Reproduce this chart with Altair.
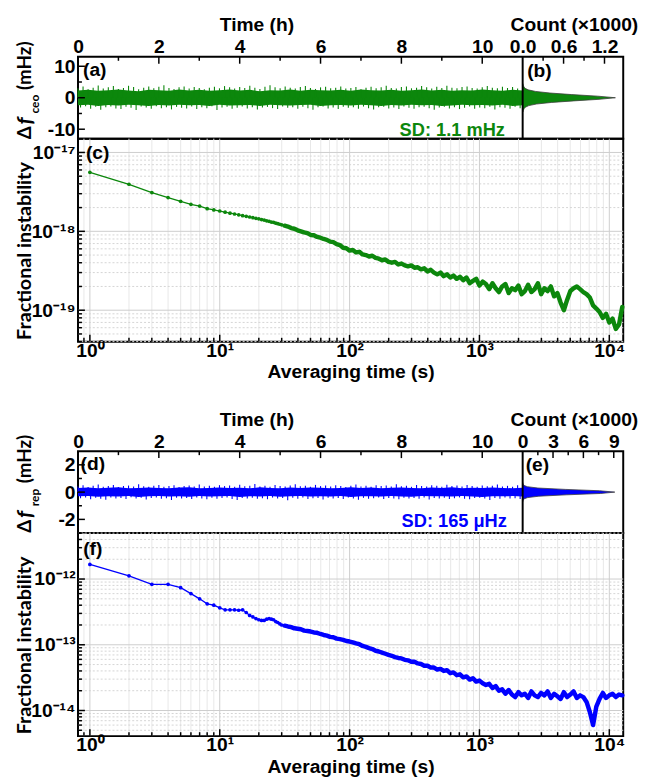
import altair as alt
import pandas as pd

FONT = "Liberation Sans"
SIDE_FONT = "Lato"
FS = 19.5
GREEN = "#0c870c"
BLUE = "#0000ff"

# ---------------- data ----------------
# (a) Delta f_ceo trace, 0..11 h: spike tips above / below zero (mHz)
ceo_upper = [3.0, 3.6, 2.7, 3.2, 3.9, 2.9, 3.3, 3.7, 2.8, 3.1,
             3.8, 3.4, 2.7, 3.2, 3.6, 3.0, 3.5, 4.0, 3.1, 2.8,
             3.3, 3.6, 2.9, 3.4, 3.1, 2.7, 3.2, 3.5, 3.0, 3.7,
             3.3, 2.9, 3.4, 3.1, 3.8, 3.2, 2.8, 3.5, 4.0, 3.3,
             3.0, 3.6, 3.2, 2.9, 3.4, 3.7, 3.1, 2.8, 3.3, 3.5,
             3.0, 3.2, 3.6, 2.9, 3.1, 3.4, 2.7, 3.2, 3.5, 3.0,
             3.3, 3.8, 3.1, 2.9, 3.4, 3.6, 3.0, 3.2, 3.7, 3.3,
             2.9, 3.5, 3.1, 3.8, 3.2, 3.0, 3.4, 3.6, 3.1, 2.9,
             3.3, 3.7, 3.2, 3.0, 3.5, 3.1, 3.4, 2.9, 3.2]
ceo_lower = [-3.1, -2.7, -3.5, -2.9, -3.8, -3.0, -2.8, -3.4, -3.6, -2.9,
             -3.2, -3.9, -2.8, -3.1, -3.5, -2.7, -3.3, -3.0, -3.7, -2.9,
             -3.2, -3.4, -2.8, -3.6, -3.0, -3.3, -2.7, -3.9, -3.1, -2.9,
             -3.5, -3.2, -2.8, -3.4, -3.0, -3.7, -3.1, -2.9, -3.3, -3.6,
             -2.8, -3.2, -3.0, -3.5, -2.9, -3.3, -3.8, -3.0, -2.8, -3.4,
             -3.1, -3.6, -2.9, -3.2, -3.0, -3.5, -2.8, -3.3, -3.7, -3.0,
             -2.9, -3.4, -3.1, -3.6, -2.8, -3.2, -3.5, -3.0, -2.9, -3.3,
             -3.8, -3.1, -2.9, -3.4, -3.0, -3.6, -3.2, -2.8, -3.5, -3.1,
             -3.3, -2.9, -3.7, -3.0, -3.2, -3.5, -2.9, -3.3, -3.1]
# dense core of the band (mHz)
ceo_core_upper = [2.3, 2.5, 2.2, 2.4, 2.6, 2.3, 2.1, 2.5, 2.4, 2.2,
                  2.6, 2.3, 2.5, 2.2, 2.4, 2.6, 2.3, 2.5, 2.1, 2.4,
                  2.3, 2.6, 2.2, 2.5, 2.4, 2.3, 2.5, 2.2, 2.6, 2.4,
                  2.3, 2.5, 2.2, 2.4, 2.6, 2.3, 2.5, 2.2, 2.4, 2.3,
                  2.6, 2.4, 2.2, 2.5, 2.3]
ceo_core_lower = [-2.4, -2.2, -2.6, -2.3, -2.5, -2.2, -2.4, -2.6, -2.3, -2.5,
                  -2.2, -2.4, -2.3, -2.6, -2.2, -2.5, -2.4, -2.3, -2.6, -2.2,
                  -2.4, -2.5, -2.3, -2.2, -2.6, -2.4, -2.3, -2.5, -2.2, -2.4,
                  -2.6, -2.3, -2.5, -2.2, -2.4, -2.3, -2.6, -2.5, -2.2, -2.4,
                  -2.3, -2.5, -2.2, -2.6, -2.4]
# (d) Delta f_rep trace (mHz)
rep_upper = [0.42, 0.50, 0.38, 0.46, 0.55, 0.40, 0.44, 0.52, 0.37, 0.45,
             0.48, 0.41, 0.57, 0.43, 0.39, 0.47, 0.53, 0.40, 0.45, 0.50,
             0.38, 0.44, 0.49, 0.42, 0.56, 0.41, 0.46, 0.39, 0.51, 0.44,
             0.48, 0.40, 0.54, 0.43, 0.47, 0.60, 0.42, 0.46, 0.39, 0.52,
             0.45, 0.41, 0.49, 0.58, 0.43, 0.47, 0.40, 0.53, 0.44, 0.48,
             0.41, 0.50, 0.45, 0.38, 0.47, 0.55, 0.42, 0.46, 0.40, 0.51,
             0.44, 0.49, 0.41, 0.57, 0.43, 0.47, 0.39, 0.52, 0.45, 0.42,
             0.50, 0.46, 0.40, 0.54, 0.44, 0.48, 0.41, 0.53, 0.45, 0.39,
             0.49, 0.43, 0.47, 0.56, 0.42, 0.46, 0.40, 0.50, 0.44]
rep_lower = [-0.45, -0.39, -0.52, -0.41, -0.48, -0.56, -0.40, -0.46, -0.43, -0.50,
             -0.38, -0.47, -0.42, -0.55, -0.44, -0.40, -0.49, -0.45, -0.58, -0.41,
             -0.47, -0.43, -0.51, -0.39, -0.46, -0.53, -0.42, -0.48, -0.44, -0.40,
             -0.50, -0.57, -0.43, -0.47, -0.41, -0.49, -0.45, -0.52, -0.40, -0.46,
             -0.44, -0.60, -0.42, -0.48, -0.39, -0.51, -0.45, -0.43, -0.54, -0.41,
             -0.47, -0.44, -0.50, -0.40, -0.46, -0.56, -0.42, -0.48, -0.45, -0.39,
             -0.51, -0.43, -0.47, -0.53, -0.41, -0.46, -0.44, -0.49, -0.40, -0.55,
             -0.43, -0.47, -0.42, -0.50, -0.45, -0.39, -0.48, -0.52, -0.44, -0.41,
             -0.46, -0.57, -0.43, -0.49, -0.40, -0.47, -0.45, -0.51, -0.42]
rep_core_upper = [0.30, 0.33, 0.28, 0.32, 0.35, 0.29, 0.31, 0.34, 0.30, 0.28,
                  0.33, 0.36, 0.29, 0.31, 0.34, 0.30, 0.32, 0.28, 0.35, 0.31,
                  0.29, 0.33, 0.30, 0.34, 0.32, 0.28, 0.31, 0.35, 0.30, 0.33,
                  0.29, 0.32, 0.34, 0.30, 0.28, 0.33, 0.31, 0.35, 0.29, 0.32,
                  0.30, 0.34, 0.31, 0.28, 0.32]
rep_core_lower = [-0.31, -0.28, -0.34, -0.30, -0.33, -0.29, -0.35, -0.31, -0.28, -0.32,
                  -0.30, -0.34, -0.29, -0.33, -0.31, -0.28, -0.35, -0.30, -0.32, -0.29,
                  -0.34, -0.31, -0.28, -0.33, -0.30, -0.32, -0.29, -0.35, -0.31, -0.30,
                  -0.33, -0.28, -0.32, -0.34, -0.29, -0.31, -0.30, -0.33, -0.28, -0.32,
                  -0.35, -0.30, -0.31, -0.29, -0.33]

# (b) histogram of Delta f_ceo: bin centre (mHz) and count (x1000)
ceo_hist_mhz = [-4.5, -4.0, -3.5, -3.0, -2.5, -2.0, -1.5, -1.0, -0.5, 0.0,
                0.5, 1.0, 1.5, 2.0, 2.5, 3.0, 3.5, 4.0, 4.5]
ceo_hist_count = [0.005, 0.01, 0.02, 0.04, 0.09, 0.2, 0.42, 0.75, 1.12, 1.36,
                  1.1, 0.72, 0.4, 0.19, 0.08, 0.035, 0.018, 0.008, 0.004]
# (e) histogram of Delta f_rep
rep_hist_mhz = [-0.7, -0.6, -0.5, -0.4, -0.3, -0.2, -0.1, 0.0, 0.1, 0.2,
                0.3, 0.4, 0.5, 0.6, 0.7]
rep_hist_count = [0.02, 0.05, 0.12, 0.5, 1.6, 4.3, 7.7, 9.1, 7.6, 4.2,
                  1.5, 0.45, 0.11, 0.04, 0.02]

# (c) fractional instability of f_ceo, units of 1e-18
sparse_tau = list(range(1, 31))
ceo_adev_sparse = [5.6, 3.95, 3.1, 2.68, 2.4, 2.2, 2.09, 1.94, 1.87, 1.81,
                   1.75, 1.70, 1.66, 1.62, 1.58, 1.55, 1.52, 1.49, 1.46, 1.44,
                   1.41, 1.39, 1.36, 1.34, 1.31, 1.30, 1.27, 1.25, 1.23, 1.21]
# dense part: averaging times 10^1.5 ... 10^4.1 in steps of 0.025 decade
ceo_adev_dense = [1.18, 1.15, 1.10, 1.08, 1.03, 1.00, 0.97, 0.95, 0.90, 0.89,
                  0.85, 0.83, 0.80, 0.78, 0.74, 0.73, 0.69, 0.67, 0.62, 0.61,
                  0.57, 0.58, 0.54, 0.55, 0.51, 0.50, 0.48, 0.49, 0.46, 0.45,
                  0.43, 0.44, 0.41, 0.40, 0.41, 0.38, 0.39, 0.37, 0.36, 0.37,
                  0.345, 0.35, 0.33, 0.34, 0.31, 0.325, 0.30, 0.285, 0.30, 0.27,
                  0.285, 0.26, 0.275, 0.25, 0.265, 0.24, 0.26, 0.22, 0.235, 0.25,
                  0.205, 0.23, 0.215, 0.185, 0.22, 0.19, 0.17, 0.20, 0.215, 0.165,
                  0.19, 0.18, 0.205, 0.16, 0.175, 0.21, 0.17, 0.185, 0.22, 0.16,
                  0.19, 0.175, 0.20, 0.15, 0.165, 0.125, 0.10, 0.135, 0.175, 0.19,
                  0.20, 0.185, 0.17, 0.16, 0.145, 0.115, 0.105, 0.095, 0.08, 0.09,
                  0.07, 0.078, 0.058, 0.066, 0.11]
# (f) fractional instability of f_rep, units of 1e-14
rep_adev_sparse = [167, 112, 83, 83, 74, 60, 50, 42, 40, 36.5,
                   34, 34, 34, 33.5, 34, 31, 28, 26.5, 25, 24,
                   23.5, 23.5, 24.5, 25, 24.5, 24, 22.5, 21.8, 20.8, 20]
rep_adev_dense = [19.5, 19.0, 18.6, 17.8, 17.5, 17.2, 16.4, 16.2, 15.9, 15.4,
                  15.2, 14.6, 14.1, 13.8, 13.2, 13.0, 12.4, 12.2, 11.9, 11.4,
                  11.2, 10.9, 10.5, 10.2, 9.6, 9.3, 8.9, 8.6, 8.1, 7.9,
                  7.6, 7.3, 7.0, 6.8, 6.5, 6.3, 6.2, 5.9, 5.8, 5.5,
                  5.5, 5.2, 5.1, 4.8, 4.8, 4.5, 4.5, 4.2, 4.3, 4.0,
                  4.1, 3.7, 3.8, 3.45, 3.55, 3.2, 3.3, 2.95, 3.1, 2.75,
                  2.85, 2.6, 2.45, 2.55, 2.2, 2.35, 2.0, 2.1, 1.8, 2.05,
                  1.75, 1.6, 1.9, 1.7, 1.8, 1.55, 1.95, 1.7, 1.6, 1.85,
                  1.7, 1.95, 1.55, 1.8, 1.65, 1.5, 1.9, 1.6, 1.75, 1.95,
                  1.55, 1.7, 1.6, 1.35, 0.95, 0.6, 1.15, 1.5, 1.85, 1.55,
                  1.7, 1.8, 1.6, 1.75, 1.7]

# ---------------- layout constants ----------------
W = 553          # full panel width (time trace + histogram)
W_TS = 451       # width of the time-trace part
H_TS = 83
H_AD = 206
TIME_MAX = 11 * W / W_TS

SUP = "['⁰','¹','²','³','⁴','⁵','⁶','⁷','⁸','⁹']"
E = "round(log(datum.value)/LN10)"
EXP_LABEL = (f"'10' + ({E} < 0 ? '⁻' : '') + (abs({E}) >= 10 ? {SUP}[floor(abs({E})/10)] : '') "
             f"+ {SUP}[abs({E}) % 10]")


def txt(s, x, y, size=FS, angle=0, italic=False, color="black", align="center",
        baseline="middle", font=FONT):
    return alt.Chart(pd.DataFrame({"s": [s]})).mark_text(
        font=font, fontSize=size, fontWeight="bold", fontStyle="italic" if italic else "normal",
        angle=angle, align=align, baseline=baseline, color=color,
    ).encode(text="s:N", x=alt.value(x), y=alt.value(y))


def xticks(vals, scale, axis, y0, y1, width=1.5):
    return alt.Chart(pd.DataFrame({"v": vals})).mark_rule(color="black", strokeWidth=width).encode(
        x=alt.X("v:Q", scale=scale, axis=axis), y=alt.value(y0), y2=alt.value(y1))


def yticks(vals, scale, axis, length):
    return alt.Chart(pd.DataFrame({"v": vals})).mark_rule(color="black", strokeWidth=1.5).encode(
        y=alt.Y("v:Q", scale=scale, axis=axis), x=alt.value(0), x2=alt.value(length))


def ylabel_pieces(sub, dy=0):
    return [
        txt("(mHz)", -54, 8 + dy, size=19, angle=270, font=SIDE_FONT),
        txt(sub, -44, 47 + dy, size=12, angle=270, font=SIDE_FONT),
        txt("f", -54, 64 + dy, size=22, angle=270, italic=True, font=SIDE_FONT),
        txt("Δ", -54, 76 + dy, size=19, angle=270, font=SIDE_FONT),
    ]


def ts_panel(upper, lower, core_up, core_lo, color, y_dom, y_major, y_minor, hist_v, hist_c,
             c_dom, c_major, c_minor, c_fmt, texts):
    tsc = alt.Scale(domain=[0, TIME_MAX], nice=False, zero=False)
    ysc = alt.Scale(domain=y_dom, nice=False, zero=False)
    csc = alt.Scale(domain=c_dom, nice=False, zero=False)
    t_axis = alt.Axis(orient="top", values=[0, 2, 4, 6, 8, 10], title="Time (h)", titleX=181,
                      labelFlush=False, labelPadding=0, titlePadding=2.5)
    y_axis = alt.Axis(values=y_major, title=None, labelExpr="'' + datum.value", labelPadding=3)
    c_axis = alt.Axis(orient="top", values=c_major, format=c_fmt, title="Count (×1000)", titleX=503,
                      labelFlush=False, labelPadding=0, titlePadding=2.5)

    n = len(upper)
    step = 11 / (n - 1)
    spikes_up = pd.DataFrame({"t": [i * step for i in range(n)], "v": upper})
    spikes_dn = pd.DataFrame({"t": [(i + 0.5) * step for i in range(n - 1)], "v": lower[: n - 1]})
    m = len(core_up)
    core = pd.DataFrame({"t": [i * 11 / (m - 1) for i in range(m)], "hi": core_up, "lo": core_lo})

    core_area = alt.Chart(core).mark_area(color=color, opacity=1).encode(
        x=alt.X("t:Q", scale=tsc, axis=t_axis),
        y=alt.Y("hi:Q", scale=ysc, axis=y_axis),
        y2="lo:Q",
    )

    def spikes(df):
        return alt.Chart(df).mark_rule(color=color, strokeWidth=1.1).encode(
            x=alt.X("t:Q", scale=tsc, axis=t_axis),
            y=alt.Y("v:Q", scale=ysc, axis=y_axis),
            y2=alt.datum(0),
        )

    time_layer = alt.layer(
        core_area, spikes(spikes_up), spikes(spikes_dn),
        xticks([2, 4, 6, 8, 10], tsc, t_axis, 0, 7),
        xticks([1, 3, 5, 7, 9], tsc, t_axis, 0, 4),
        yticks(y_major, ysc, y_axis, 7),
        yticks(y_minor, ysc, y_axis, 4),
    )
    hist = pd.DataFrame({"v": hist_v, "c": hist_c})
    harea = alt.Chart(hist).mark_area(orient="horizontal", color=color).encode(
        x=alt.X("c:Q", scale=csc, axis=c_axis),
        x2=alt.datum(0),
        y=alt.Y("v:Q", scale=ysc, axis=y_axis),
    )
    hline = alt.Chart(hist).mark_line(color="#3c3c3c", strokeWidth=1, opacity=0.8).encode(
        x=alt.X("c:Q", scale=csc, axis=c_axis),
        y=alt.Y("v:Q", scale=ysc, axis=y_axis),
        order=alt.Order("v:Q"),
    )
    sep = alt.Chart(pd.DataFrame({"v": [0]})).mark_rule(color="black", strokeWidth=2).encode(
        x=alt.X("v:Q", scale=csc, axis=c_axis))
    count_layer = alt.layer(
        harea, hline,
        xticks([v for v in c_major if v > 0], csc, c_axis, 0, 7),
        xticks(c_minor, csc, c_axis, 0, 4),
        sep,
    )
    return alt.layer(time_layer, count_layer, *texts).resolve_scale(
        x="independent").properties(width=W, height=H_TS)


def ad_panel(sparse_vals, dense_vals, unit, color, y_dom, y_major, texts):
    xsc = alt.Scale(type="log", domain=[0.81, 12800], nice=False)
    ysc = alt.Scale(type="log", domain=y_dom, nice=False)
    x_major = [1, 10, 100, 1000, 10000]
    x_minor = [m * 10 ** k for k in range(-1, 5) for m in range(2, 10) if 0.81 < m * 10 ** k < 12800]
    y_minor = [m * 10.0 ** k for k in range(-21, -10) for m in range(2, 10)
               if y_dom[0] < m * 10.0 ** k < y_dom[1]]
    x_axis = alt.Axis(values=x_major, labelExpr=EXP_LABEL, title="Averaging time (s)",
                      labelPadding=0, titlePadding=3, labelFlush=False)
    y_axis = alt.Axis(values=y_major, labelExpr=EXP_LABEL, title=None, labelPadding=3)

    def vgrid(vals, col, dash=None):
        mk = dict(color=col, strokeWidth=1)
        if dash:
            mk["strokeDash"] = dash
        return alt.Chart(pd.DataFrame({"v": vals})).mark_rule(**mk).encode(
            x=alt.X("v:Q", scale=xsc, axis=x_axis))

    def hgrid(vals, col, dash=None):
        mk = dict(color=col, strokeWidth=1)
        if dash:
            mk["strokeDash"] = dash
        return alt.Chart(pd.DataFrame({"v": vals})).mark_rule(**mk).encode(
            y=alt.Y("v:Q", scale=ysc, axis=y_axis))

    sp = pd.DataFrame({"tau": sparse_tau, "v": [v * unit for v in sparse_vals]})
    tau_dense = [10 ** (1.5 + 0.025 * i) for i in range(len(dense_vals))]
    dn = pd.DataFrame({"tau": tau_dense, "v": [v * unit for v in dense_vals]})
    line_sp = alt.Chart(sp).mark_line(
        color=color, strokeWidth=1.3,
        point=alt.OverlayMarkDef(filled=True, size=14, color=color)).encode(
        x=alt.X("tau:Q", scale=xsc, axis=x_axis),
        y=alt.Y("v:Q", scale=ysc, axis=y_axis),
    )
    line_dn = alt.Chart(dn).mark_line(color=color, strokeWidth=4.5, strokeJoin="round",
                                      strokeCap="round").encode(
        x=alt.X("tau:Q", scale=xsc, axis=x_axis),
        y=alt.Y("v:Q", scale=ysc, axis=y_axis),
    )
    return alt.layer(
        vgrid(x_minor, "#e8e8e8"), hgrid(y_minor, "#d4d4d4", [2, 2]),
        vgrid(x_major, "#cdcdcd"), hgrid(y_major, "#cdcdcd"),
        line_sp, line_dn,
        xticks(x_major, xsc, x_axis, H_AD, H_AD - 7), xticks(x_minor, xsc, x_axis, H_AD, H_AD - 4),
        yticks(y_major, ysc, y_axis, 7), yticks(y_minor, ysc, y_axis, 4),
        *texts,
    ).properties(width=W, height=H_AD)


# ---------------- panels ----------------
ab = ts_panel(
    ceo_upper, ceo_lower, ceo_core_upper, ceo_core_lower, GREEN, [-13, 13], [10, 0, -10], [5, -5],
    ceo_hist_mhz, ceo_hist_count,
    [-W_TS / 41.5 * 0.6, (W - W_TS) / 41.5 * 0.6], [0, 0.6, 1.2], [0.3, 0.9], ".1f",
    [
        txt("(a)", 17, 13),
        txt("(b)", 468, 14),
        txt("SD: 1.1 mHz", 433, 80, size=18.5, color=GREEN, align="right", baseline="alphabetic"),
    ] + ylabel_pieces("ceo", 1),
)
c = ad_panel(
    ceo_adev_sparse, ceo_adev_dense, 1e-18, GREEN,
    [10 ** -19.4, 10 ** -16.825], [1e-17, 1e-18, 1e-19],
    [txt("(c)", 20, 15),
     txt("Fractional instability", -54, 114, size=20, angle=270, font=SIDE_FONT)],
)
de = ts_panel(
    rep_upper, rep_lower, rep_core_upper, rep_core_lower, BLUE, [-3, 3], [2, 0, -2], [1, -1],
    rep_hist_mhz, rep_hist_count,
    [-W_TS / 30.8 * 3, (W - W_TS) / 30.8 * 3], [0, 3, 6, 9], [1.5, 4.5, 7.5], "d",
    [
        txt("(d)", 15, 13),
        txt("(e)", 466, 14),
        txt("SD: 165 μHz", 435, 77, size=18.5, color=BLUE, align="right", baseline="alphabetic"),
    ] + ylabel_pieces("rep", 0),
)
f = ad_panel(
    rep_adev_sparse, rep_adev_dense, 1e-14, BLUE,
    [10 ** -14.39, 10 ** -11.3], [1e-12, 1e-13, 1e-14],
    [txt("(f)", 15, 16),
     txt("Fractional instability", -54, 114, size=20, angle=270, font=SIDE_FONT)],
)

sec1 = alt.vconcat(ab, c, spacing=0, bounds="flush")
sec2 = alt.vconcat(de, f, spacing=0, bounds="flush")

chart = alt.vconcat(sec1, sec2, spacing=26).properties(
    padding={"left": 5, "top": 0, "right": 0, "bottom": 0}
).configure(
    font=FONT,
).configure_axis(
    labelFont=FONT, labelFontSize=FS, labelFontWeight="bold", labelColor="black",
    titleFont=FONT, titleFontSize=FS, titleFontWeight="bold", titleColor="black",
    domain=False, ticks=False, grid=False,
).configure_view(
    stroke="black", strokeWidth=2,
)

chart.save("out.html", embed_options={"renderer": "svg", "actions": False})
